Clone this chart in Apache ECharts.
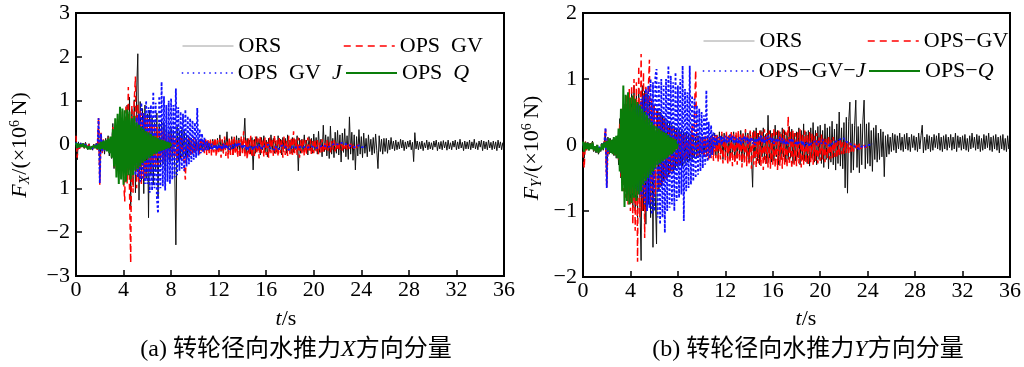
<!DOCTYPE html>
<html><head><meta charset="utf-8">
<script src="https://cdn.jsdelivr.net/npm/echarts@6/dist/echarts.min.js"></script>
<style>html,body{margin:0;padding:0;background:#fff}#c{width:1024px;height:367px}</style>
</head><body><div id="c"></div><script>
// sampling step of all time series (s)
const DT = 0.1;
const X_TICKS = ['0','4','8','12','16','20','24','28','32','36'];
const Y_TICKS_A = ['\u22123','\u22122','1','0','1','2','3'];
const Y_TICKS_B = ['\u22122','\u22121','0','1','2'];
const NAMES_A = ['ORS','OPS  GV','OPS  GV  J','OPS  Q'];
const NAMES_B = ['ORS','OPS\u2212GV','OPS\u2212GV\u2212J','OPS\u2212Q'];

// ---- (a) X component, x10^6 N ----
const ORS_X = [
0.28,-0.35,0.06,-0.08,0.04,-0.05,0.03,-0.09,0.05,-0.04,
-0.12,0.02,-0.1,-0.04,-0.13,0.01,-0.08,0.03,-0.11,0.42,
-0.68,0.18,-0.16,0.1,-0.22,0.14,-0.12,0.2,-0.26,0.16,
-0.32,0.48,-0.55,0.38,-0.52,0.66,-0.42,0.58,-0.78,0.52,
-0.7,0.62,-0.82,0.9,-0.68,1.08,-1.42,0.8,-0.92,1.02,
-1.1,1.22,2.07,-1.27,0.98,-0.88,0.82,-1.12,0.9,-0.78,
0.7,-1.67,0.78,-0.7,0.62,-0.92,0.5,-0.62,0.72,-1.2,
0.48,-0.52,0.58,-0.42,0.5,-0.6,0.38,-0.48,0.32,-0.4,
0.38,-0.3,0.32,-0.5,-2.29,0.4,-0.38,0.3,-0.32,0.34,
-0.26,0.3,-0.28,0.22,-0.25,0.18,-0.2,0.15,-0.2,0.1,
-0.15,0.1,-0.12,0.08,-0.15,0.1,-0.1,0.05,-0.12,0.1,
-0.08,0.06,-0.14,0.08,-0.1,0.12,-0.06,0.1,-0.15,0.14,
-0.12,0.22,-0.16,0.1,-0.2,0.14,-0.08,0.29,-0.18,0.12,
-0.14,0.18,-0.24,0.1,-0.16,0.2,-0.12,0.15,-0.26,0.12,
-0.18,0.12,0.6,-0.2,0.14,-0.18,0.1,-0.22,0.16,-0.58,
0.12,-0.2,0.18,-0.14,0.12,-0.24,0.16,-0.12,0.2,-0.18,
0.1,-0.28,0.14,-0.16,0.22,-0.12,0.14,-0.2,0.08,-0.18,
0.2,-0.12,0.12,-0.24,0.16,-0.1,0.14,-0.2,0.22,-0.14,
0.1,-0.2,0.16,-0.18,0.12,-0.12,0.2,-0.6,0.14,-0.2,
0.12,-0.16,0.22,-0.12,0.1,-0.24,0.18,-0.14,0.14,-0.2,
0.24,-0.14,0.16,-0.22,0.3,-0.18,0.12,-0.28,0.44,-0.16,
0.22,-0.26,0.18,-0.32,0.42,-0.22,0.14,-0.3,0.28,-0.2,
0.32,-0.24,0.22,-0.4,0.26,-0.18,0.36,-0.28,0.2,-0.34,
0.63,-0.22,0.28,-0.36,0.22,-0.58,0.18,-0.26,0.34,-0.22,
0.18,-0.3,0.26,-0.2,0.14,-0.28,0.22,-0.16,0.12,-0.24,
0.16,-0.2,0.24,-0.14,-0.55,0.2,-0.16,0.12,-0.22,0.14,
-0.16,0.14,-0.2,0.1,-0.12,0.16,-0.1,0.08,-0.14,0.1,
-0.12,0.06,-0.1,0.12,-0.08,0.1,-0.14,0.06,-0.1,0.08,
-0.06,0.1,-0.12,0.05,-0.39,0.27,-0.1,0.08,-0.12,0.06,
-0.1,0.08,-0.14,0.04,-0.08,0.1,-0.12,0.06,-0.1,0.04,
-0.12,0.08,-0.06,0.1,-0.14,0.05,-0.1,0.07,-0.12,0.09,
-0.08,0.06,-0.13,0.1,-0.1,0.04,-0.12,0.08,-0.06,0.1,
-0.12,0.06,-0.1,0.12,-0.08,0.05,-0.14,0.08,-0.1,0.06,
-0.1,0.1,-0.12,0.06,-0.08,0.12,-0.1,0.04,-0.12,0.08,
-0.06,0.1,-0.14,0.08,-0.1,0.06,-0.12,0.1,-0.08,0.05,
-0.12,0.08,-0.1,0.06,-0.14,0.1,-0.08,0.06,-0.12,0.04,
-0.1];
const GV_X = [
0.2,-0.3,0.04,-0.1,0.03,-0.06,0.02,-0.08,0.03,-0.06,
-0.1,0.0,-0.12,-0.05,-0.1,0.0,-0.08,0.02,-0.12,0.63,
-0.92,0.3,-0.2,0.12,-0.18,0.1,-0.14,0.16,-0.2,0.12,
-0.28,0.4,-0.5,0.44,-0.62,0.58,-0.7,0.66,-0.6,0.75,
-0.8,-1.3,0.9,-0.9,1.31,-1.0,-2.7,0.9,-1.1,1.0,
1.55,-1.0,0.92,-0.86,0.8,-0.9,0.72,-0.8,0.66,-0.7,
0.6,-0.62,0.55,-0.66,0.48,-0.52,0.44,-0.5,0.4,-0.46,
0.36,-0.42,0.32,-0.38,0.3,-0.34,0.28,-0.36,0.24,-0.3,
0.22,-0.28,0.2,-0.3,0.18,-0.34,0.16,-0.26,0.2,-0.3,
0.14,-0.5,-0.8,0.12,-0.3,0.16,-0.24,0.1,-0.22,0.14,
-0.2,0.12,-0.18,0.1,-0.22,0.14,-0.16,0.08,-0.2,0.12,
-0.24,0.1,-0.2,0.14,-0.26,0.08,-0.18,0.16,-0.28,0.1,
-0.22,0.14,-0.3,0.12,-0.2,0.18,-0.26,0.1,-0.32,0.16,
-0.24,0.12,-0.28,0.2,-0.22,0.1,-0.3,0.14,-0.26,0.18,
-0.2,0.3,-0.28,0.12,-0.34,0.16,-0.24,0.2,-0.3,0.1,
-0.26,0.18,-0.22,0.14,-0.32,0.2,-0.2,0.12,-0.28,0.16,
-0.24,0.1,-0.3,0.18,-0.2,0.14,-0.26,0.22,-0.22,0.1,
-0.28,0.16,-0.2,0.12,-0.3,0.18,-0.24,0.1,-0.26,0.2,
-0.22,0.14,-0.28,0.3,-0.2,0.12,-0.24,0.16,-0.3,0.1,
-0.2,0.14,-0.26,0.1,-0.22,0.16,-0.18,0.12,-0.24,0.08,
-0.2,0.12,-0.16,0.1,-0.22,0.08,-0.18,0.12,-0.2,0.06,
-0.16,0.1,-0.14,0.06,-0.18,0.08,-0.12,0.1,-0.16,0.04,
-0.14,0.06,-0.12,0.04,-0.14,0.02,-0.1,0.04,-0.12,0.0,
-0.1,0.02,-0.08,0.0,-0.1,-0.02,-0.08,0.0,-0.06,-0.04,
-0.05];
const GVJ_X = [
0.05,-0.08,0.03,-0.06,0.02,-0.05,0.03,-0.07,0.02,-0.05,
-0.08,-0.02,-0.1,-0.06,-0.09,-0.02,-0.07,0.0,-0.1,0.6,
-0.88,0.25,-0.15,0.1,-0.14,0.08,-0.12,0.12,-0.16,0.1,
-0.2,0.3,-0.35,0.28,-0.4,0.36,-0.44,0.4,-0.38,0.45,
-0.5,0.42,-0.55,0.5,-0.48,0.56,-0.6,0.5,-0.65,0.6,
-0.7,0.62,-0.75,0.7,-0.85,0.95,-0.8,0.72,-0.9,1.0,
-0.9,0.85,-1.1,0.9,-1.05,1.2,-1.0,0.95,-1.2,-1.57,
1.1,-1.0,1.43,-0.95,1.1,-1.05,0.9,-0.85,1.0,-0.9,
1.05,-0.8,0.9,-0.75,1.28,-0.7,0.85,-0.6,0.75,-0.55,
0.7,-0.6,0.8,-0.5,0.65,-0.45,0.6,-0.4,0.55,-0.35,
0.5,-0.3,0.83,-0.25,0.35,-0.2,0.25,-0.18,0.15,-0.14,
0.08,-0.12,0.04,-0.1,0.02,-0.12,0.0,-0.1,-0.02,-0.12,
0.0,-0.1,-0.02,-0.12,0.02,-0.08,0.0,-0.1,-0.04,-0.12,
-0.02,-0.1,0.0,-0.08,0.02,-0.06,0.04,-0.04,0.02,-0.06,
0.0,-0.08,-0.02,-0.1,-0.04,-0.12,-0.06,-0.1,-0.04,-0.12,
-0.06,-0.1,-0.02,-0.08,0.0,-0.06,-0.02,-0.1,-0.04,-0.08,
-0.02,-0.06,0.0,-0.08,-0.04,-0.1,-0.06,-0.12,-0.04,-0.1,
-0.06,-0.1,-0.04,-0.08,-0.02,-0.06,-0.04,-0.1,-0.06,-0.12,
-0.08,-0.1,-0.04,-0.08,-0.06,-0.1,-0.08,-0.12,-0.06,-0.1,
-0.04,-0.08,-0.06,-0.1,-0.08,-0.12,-0.06,-0.1,-0.04,-0.08,
-0.06,-0.1,-0.08,-0.12,-0.06,-0.1,-0.04,-0.08,-0.02,-0.06,
-0.04,-0.08,-0.06,-0.1,-0.04,-0.06,0.0,-0.04,0.02,-0.02,
0.0,-0.04,0.02,-0.02,0.04,0.0,0.02,-0.02,0.0,-0.04,
-0.02,-0.06,-0.04,-0.08,-0.06,-0.08,-0.04,-0.06,-0.02,-0.04,
-0.06,-0.04,-0.06,-0.03,-0.05];
const Q_X = [
0.04,-0.08,0.02,-0.06,0.0,-0.05,0.02,-0.07,-0.02,-0.06,
-0.1,-0.04,-0.11,-0.06,-0.1,-0.03,-0.08,-0.02,-0.1,0.02,
-0.12,0.06,-0.1,0.08,-0.12,0.1,-0.16,0.14,-0.2,0.18,
-0.3,0.35,-0.5,0.6,-0.75,0.7,-0.9,0.86,-0.8,0.82,
-0.92,0.78,-0.85,0.8,-0.7,0.75,-0.8,0.6,-0.7,0.65,
-0.6,0.5,-0.55,0.45,-0.5,0.4,-0.42,0.36,-0.38,0.3,
-0.34,0.28,-0.3,0.24,-0.26,0.2,-0.22,0.18,-0.2,0.14,
-0.16,0.12,-0.14,0.1,-0.12,0.08,-0.1,0.06,-0.08,0.04,
-0.04];

// ---- (b) Y component, x10^6 N ----
const ORS_Y = [
0.1,-0.2,0.05,-0.06,0.04,-0.08,0.03,-0.05,0.06,-0.1,
-0.04,-0.12,0.0,-0.14,-0.06,-0.1,0.02,-0.08,0.04,0.2,
-0.58,0.12,-0.14,0.1,-0.12,0.08,-0.16,0.1,-0.2,0.14,
-0.3,0.4,-0.5,0.46,-0.6,0.55,-0.7,0.62,-0.75,0.7,
-0.85,0.8,-0.95,0.9,-1.0,0.75,-1.1,0.85,-0.9,-1.75,
0.9,-1.0,0.82,-1.2,0.78,-0.9,0.7,-1.1,0.64,-1.55,
0.6,-0.8,-1.5,0.55,-0.7,0.5,-0.62,0.45,-0.55,0.4,
-0.5,0.38,-0.45,0.35,-0.4,0.3,-0.42,0.28,-0.36,0.26,
-0.34,0.24,-0.3,0.22,-0.32,0.2,-0.28,0.18,-0.26,0.16,
-0.24,0.16,-0.22,0.14,-0.2,0.12,-0.18,0.14,-0.16,0.1,
-0.14,0.12,-0.16,0.1,-0.12,0.14,-0.1,0.12,-0.14,0.16,
-0.12,0.18,-0.16,0.14,-0.2,0.2,-0.14,0.16,-0.22,0.18,
-0.14,0.18,-0.2,0.14,-0.22,0.16,-0.18,0.2,-0.24,0.14,
-0.2,0.18,-0.16,0.22,-0.26,0.16,-0.2,0.24,-0.22,0.18,
-0.26,0.2,-0.16,-0.64,0.22,-0.2,0.26,-0.24,0.18,-0.3,
0.22,-0.18,0.26,-0.22,0.16,-0.28,0.45,-0.2,0.22,-0.26,
0.18,-0.24,0.3,-0.18,0.22,-0.3,0.2,-0.22,0.26,-0.18,
0.22,-0.26,0.18,-0.22,0.28,-0.2,0.24,-0.28,0.18,-0.24,
0.2,-0.18,0.26,-0.3,0.22,-0.22,0.32,-0.24,0.2,-0.28,
0.22,-0.32,0.26,-0.2,0.34,-0.26,0.22,-0.3,0.28,-0.22,
0.3,-0.28,0.22,-0.34,0.32,-0.22,0.26,-0.36,0.28,-0.26,
0.36,-0.3,0.24,-0.38,0.32,-0.28,0.5,-0.32,0.26,-0.36,
0.34,-0.65,0.42,-0.73,0.36,0.65,-0.42,0.32,-0.38,0.3,
0.68,-0.34,0.28,-0.42,0.32,-0.3,0.38,0.68,-0.36,0.32,
-0.28,0.34,-0.32,0.22,-0.4,0.26,-0.22,0.3,-0.26,0.18,
-0.22,0.24,-0.18,0.2,-0.48,0.14,-0.18,0.16,-0.14,0.12,
-0.1,0.18,-0.08,0.16,-0.12,0.14,-0.06,0.18,-0.08,0.12,
-0.1,0.16,-0.06,0.18,-0.08,0.12,-0.1,0.16,-0.04,0.14,
-0.08,0.12,-0.1,0.18,-0.06,0.14,0.3,-0.12,0.12,-0.08,
0.16,-0.06,0.14,-0.1,0.12,-0.08,0.16,-0.04,0.14,-0.06,
0.18,-0.08,0.12,-0.1,0.14,-0.06,0.16,-0.08,0.12,-0.04,
0.16,-0.08,0.12,-0.06,0.18,-0.1,0.14,-0.04,0.12,-0.08,
0.14,-0.06,0.16,-0.08,0.1,-0.1,0.14,-0.06,0.18,-0.04,
0.12,-0.08,0.16,-0.06,0.14,-0.1,0.1,-0.08,0.16,-0.06,
0.14,-0.04,0.18,-0.08,0.12,-0.1,0.14,-0.06,0.16,-0.08,
0.12,-0.12,0.14,-0.06,0.16,-0.08,0.1,-0.1,0.14,-0.06,
0.04];
const GV_Y = [
-0.1,-0.35,0.05,-0.08,0.04,-0.06,0.02,-0.05,0.04,-0.08,
-0.04,-0.1,0.0,-0.12,-0.05,-0.08,0.02,-0.06,0.05,0.26,
-0.65,0.1,-0.12,0.08,-0.1,0.06,-0.14,0.1,-0.16,0.12,
-0.25,0.35,-0.48,0.55,-0.7,0.62,-0.8,0.75,-0.9,0.85,
-1.0,0.9,-1.2,1.0,-1.3,0.95,-1.77,1.2,-1.1,1.38,
-1.0,1.1,-1.41,0.9,-1.0,0.8,1.29,-0.9,0.7,-0.8,
0.6,-0.75,0.55,-0.7,0.5,-0.65,0.45,-0.6,0.4,-0.55,
0.35,-0.5,0.3,-0.45,0.28,-0.4,0.25,-0.35,0.22,-0.3,
0.2,-0.3,0.18,-0.28,0.16,-0.25,0.15,-0.22,0.14,-0.2,
0.12,-0.2,0.3,-0.18,0.5,1.13,-0.16,0.12,-0.18,0.1,
-0.16,0.12,-0.2,0.14,-0.18,0.1,-0.22,0.12,-0.2,0.16,
-0.24,0.14,-0.2,0.18,-0.26,0.12,-0.22,0.2,-0.28,0.14,
-0.24,0.2,-0.3,0.16,-0.26,0.22,-0.32,0.18,-0.28,0.2,
-0.3,0.22,-0.26,0.18,-0.34,0.2,-0.28,0.24,-0.32,0.16,
-0.28,0.22,-0.36,0.2,-0.3,0.24,-0.34,0.18,-0.28,0.22,
-0.32,0.2,-0.38,0.24,-0.3,0.18,-0.34,0.22,-0.36,0.2,
-0.3,0.26,-0.34,0.2,-0.38,0.22,-0.32,0.18,-0.36,0.24,
-0.3,0.2,-0.34,0.43,-0.3,0.2,-0.36,0.22,-0.3,0.18,
-0.32,0.2,-0.28,0.24,-0.34,0.18,-0.3,0.22,-0.28,0.16,
-0.3,0.2,-0.26,0.18,-0.3,0.14,-0.24,0.18,-0.28,0.12,
-0.24,0.16,-0.22,0.12,-0.26,0.1,-0.2,0.14,-0.22,0.08,
-0.2,0.12,-0.18,0.08,-0.2,0.06,-0.16,0.1,-0.14,0.04,
-0.14,0.06,-0.12,0.02,-0.12,0.04,-0.1,0.0,-0.1,0.02,
-0.08,0.0,-0.08,0.02,-0.06,-0.02,-0.06,0.0,-0.04,-0.02,
-0.03];
const GVJ_Y = [
0.03,-0.06,0.02,-0.04,0.03,-0.05,0.02,-0.04,0.03,-0.06,
-0.02,-0.08,0.0,-0.1,-0.04,-0.06,0.02,-0.04,0.04,0.26,
-0.65,0.08,-0.1,0.06,-0.08,0.05,-0.1,0.08,-0.12,0.1,
-0.2,0.25,-0.3,0.35,-0.4,0.38,-0.45,0.42,-0.5,0.46,
-0.55,0.5,-0.6,0.55,-0.65,0.6,-0.7,0.62,-0.75,0.7,
-0.8,0.75,-0.9,0.85,-1.0,0.9,-0.95,1.0,-1.05,0.95,
-1.0,1.05,1.15,-1.1,0.95,-1.2,1.0,-1.1,0.9,-1.33,
1.0,-1.0,1.2,-0.95,1.05,-0.9,0.95,-1.0,1.1,-0.85,
0.9,-0.8,1.0,-0.75,1.2,-1.15,0.85,-0.7,0.8,-0.65,
1.2,-0.6,0.75,-0.55,0.7,-0.5,0.6,-0.45,0.55,-0.4,
0.5,-0.35,0.45,-0.3,0.83,-0.25,0.35,-0.2,0.3,-0.15,
0.2,-0.05,0.15,0.0,0.12,0.02,0.14,0.0,0.12,0.04,
0.14,0.02,0.12,0.04,0.16,0.06,0.14,0.02,0.12,0.04,
0.1,0.02,0.12,0.0,0.1,0.04,0.14,0.06,0.12,0.02,
0.1,0.04,0.12,0.02,0.08,0.0,0.1,0.04,0.12,0.06,
0.14,0.04,0.1,0.02,0.12,0.06,0.14,0.08,0.12,0.04,
0.1,0.02,0.08,0.04,0.1,0.06,0.12,0.04,0.1,0.02,
0.08,0.0,0.06,0.02,0.08,0.04,0.1,0.06,0.08,0.02,
0.06,0.0,0.04,0.02,0.06,0.0,0.04,-0.02,0.02,0.0,
0.04,-0.02,0.02,0.0,0.04,0.02,0.06,0.0,0.04,0.02,
0.06,0.02,0.08,0.04,0.06,0.02,0.04,0.0,0.02,-0.02,
0.02,0.0,0.04,0.02,0.06,0.04,0.08,0.06,0.1,0.08,
0.1,0.06,0.08,0.04,0.06,0.02,0.04,0.0,0.02,-0.02,
0.0,-0.04,-0.02,-0.06,-0.04,-0.02,0.0,-0.04,-0.02,0.0,
0.02,0.0,0.02,0.01,0.02];
const Q_Y = [
0.05,-0.1,0.04,-0.06,0.03,-0.08,0.02,-0.06,0.04,-0.08,
-0.02,-0.1,0.0,-0.12,-0.04,-0.08,0.02,-0.06,0.04,-0.04,
0.06,-0.08,0.1,-0.12,0.08,-0.14,0.12,-0.16,0.14,-0.2,
0.25,-0.4,0.55,-0.7,0.9,-0.94,0.76,-0.85,0.8,-0.9,
0.72,-0.88,0.75,-0.8,0.7,-0.85,0.65,-0.75,0.6,-0.7,
0.55,-0.6,0.5,-0.55,0.45,-0.5,0.4,-0.45,0.35,-0.4,
0.3,-0.35,0.28,-0.3,0.25,-0.28,0.22,-0.25,0.2,-0.22,
0.18,-0.2,0.15,-0.16,0.12,-0.14,0.1,-0.1,0.08,-0.06,
0.02];

const SERIF = "'Liberation Serif', 'Times New Roman', 'Noto Sans CJK SC', serif";
function pairs(arr){ return arr.map((v,i)=>[Math.round(i*DT*10)/10, v]); }

const STYLES = [
  {color:'#111111', width:1, type:'solid'},
  {color:'#ff0000', width:1.5, type:[6,4]},
  {color:'#1010ff', width:1.8, type:[2.5,2]},
  {color:'#0a7d0a', width:2, type:'solid'}
];
const LEGEND_ICON = [
  {color:'#a0a0a0', width:1, type:'solid'},
  {color:'#ff0000', width:1.5, type:[7,5]},
  {color:'#1010ff', width:1.5, type:[1.5,4]},
  {color:'#0a7d0a', width:2, type:'solid'}
];

function mkSeries(names, arrays, gi){
  return arrays.map((arr,k)=>({
    name: names[k], type:'line', xAxisIndex:gi, yAxisIndex:gi,
    data: pairs(arr), showSymbol:false, symbol:'none', silent:true,
    animation:false, clip:true,
    lineStyle: Object.assign({}, STYLES[k]),
    itemStyle: {color: STYLES[k].color}
  }));
}
function richName(n){
  return n.replace(/J$/, '{i|J}').replace(/Q$/, '{i|Q}');
}
function mkLegend(name, k, left, top){
  return {
    left:left, top:top, padding:0, itemWidth:51, itemHeight:20, itemGap:0,
    selectedMode:false, icon:'inherit',
    data:[{name:name, icon:'inherit', lineStyle:Object.assign({}, LEGEND_ICON[k]), itemStyle:{color:LEGEND_ICON[k].color, opacity:0}}],
    formatter: richName,
    textStyle:{fontFamily:SERIF, fontSize:22, color:'#000', lineHeight:22,
      rich:{i:{fontFamily:SERIF, fontSize:22, fontStyle:'italic', color:'#000', lineHeight:22}}}
  };
}

function xAxis(gi){
  return {type:'value', gridIndex:gi, min:0, max:36, interval:4,
    axisLine:{show:true, onZero:false, lineStyle:{color:'#000', width:2}},
    axisTick:{show:true, inside:true, length:6, lineStyle:{color:'#000', width:1.5}},
    splitLine:{show:false},
    axisLabel:{color:'#000', fontFamily:SERIF, fontSize:22, margin:3,
      formatter:(v)=>X_TICKS[Math.round(v/4)]}};
}
function yAxis(gi, min, max, labels){
  return {type:'value', gridIndex:gi, min:min, max:max, interval:1,
    axisLine:{show:true, onZero:false, lineStyle:{color:'#000', width:2}},
    axisTick:{show:true, inside:true, length:6, lineStyle:{color:'#000', width:1.5}},
    splitLine:{show:false},
    axisLabel:{color:'#000', fontFamily:SERIF, fontSize:22, margin:6,
      formatter:(v)=>labels[Math.round(v-min)]}};
}

const txt = (x,y,text,rich,extra)=>Object.assign({type:'text', x:x, y:y, silent:true,
  style:{text:text, fill:'#000', font:'22px '+SERIF, align:'center', verticalAlign:'middle', rich:rich}}, extra||{});
const nameRich = {
  i:{fontFamily:SERIF, fontSize:22, fontStyle:'italic', fill:'#000', lineHeight:24},
  sub:{fontFamily:SERIF, fontSize:14, fontStyle:'italic', fill:'#000', verticalAlign:'bottom', lineHeight:24, padding:[0,1,0,0]},
  sup:{fontFamily:SERIF, fontSize:14, fill:'#000', verticalAlign:'top', lineHeight:24, padding:[0,0,0,0]},
  n:{fontFamily:SERIF, fontSize:22, fill:'#000', lineHeight:24},
  c:{fontFamily:SERIF, fontSize:24, fill:'#000', lineHeight:26},
  ci:{fontFamily:SERIF, fontSize:24, fontStyle:'italic', fill:'#000', lineHeight:26}
};

const chart = echarts.init(document.getElementById('c'), null, {renderer:'canvas'});
chart.setOption({
  animation:false,
  backgroundColor:'#fff',
  grid:[
    {left:76, top:13, width:428, height:263, show:true, borderColor:'#000', borderWidth:2, backgroundColor:'transparent'},
    {left:583, top:13, width:428, height:264, show:true, borderColor:'#000', borderWidth:2, backgroundColor:'transparent'}
  ],
  xAxis:[xAxis(0), xAxis(1)],
  yAxis:[yAxis(0,-3,3,Y_TICKS_A), yAxis(1,-2,2,Y_TICKS_B)],
  legend:[
    mkLegend(NAMES_A[0],0,182,35), mkLegend(NAMES_A[1],1,343,35),
    mkLegend(NAMES_A[2],2,181,62), mkLegend(NAMES_A[3],3,345,62),
    mkLegend(NAMES_B[0],0,703,30), mkLegend(NAMES_B[1],1,867,30),
    mkLegend(NAMES_B[2],2,702,60), mkLegend(NAMES_B[3],3,868,60)
  ],
  series: mkSeries(NAMES_A,[ORS_X,GV_X,GVJ_X,Q_X],0).concat(mkSeries(NAMES_B,[ORS_Y,GV_Y,GVJ_Y,Q_Y],1)),
  graphic:[
    txt(20,145,'{i|F}{sub|X}{n|/(\u00d710}{sup|6}{n|\u2009N)}',nameRich,{rotation:Math.PI/2}),
    txt(532,148,'{i|F}{sub|Y}{n|/(\u00d710}{sup|6}{n|\u2009N)}',nameRich,{rotation:Math.PI/2}),
    txt(286,319,'{i|t}{n|/s}',nameRich),
    txt(806,319,'{i|t}{n|/s}',nameRich),
    txt(296,350,'{c|(a) 转轮径向水推力}{ci|X}{c|方向分量}',nameRich),
    txt(808,350,'{c|(b) 转轮径向水推力}{ci|Y}{c|方向分量}',nameRich)
  ]
});
</script></body></html>
